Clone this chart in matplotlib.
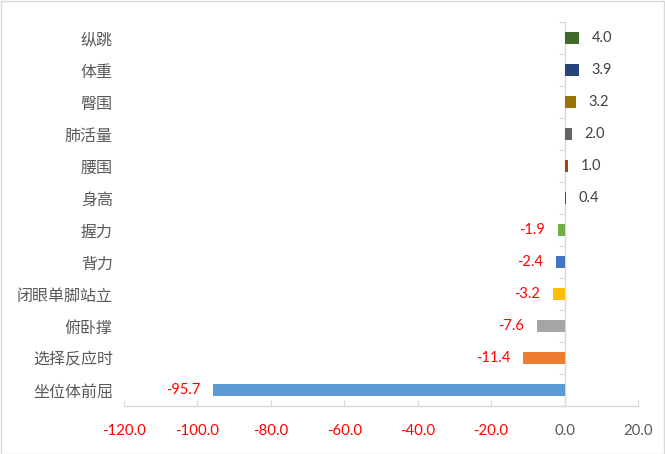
import matplotlib
matplotlib.use("Agg")
import matplotlib.pyplot as plt
from matplotlib.patches import Rectangle

plt.rcParams['font.family'] = ['Noto Sans CJK SC', 'DejaVu Sans']

# Data (top to bottom as displayed)
categories = ['纵跳', '体重', '臀围', '肺活量', '腰围', '身高', '握力', '背力',
              '闭眼单脚站立', '俯卧撑', '选择反应时', '坐位体前屈']
values = [4.0, 3.9, 3.2, 2.0, 1.0, 0.4, -1.9, -2.4, -3.2, -7.6, -11.4, -95.7]
colors = ['#43682B', '#264478', '#997300', '#636363', '#9E480E', '#255E91',
          '#70AD47', '#4472C4', '#FFC000', '#A5A5A5', '#ED7D31', '#5B9BD5']
xticks = [-120, -100, -80, -60, -40, -20, 0, 20]

fig = plt.figure(figsize=(6.65, 4.54), dpi=100)
ax = fig.add_axes([0.1865, 0.1057, 0.7729, 0.8458])

ypos = list(range(len(categories)))
ax.barh(ypos, values, height=0.37, color=colors, zorder=3)

ax.set_xlim(-120, 20)
ax.set_ylim(len(categories) - 0.5, -0.5)

num_font = 'Lato'
for y, v in zip(ypos, values):
    if v >= 0:
        ax.annotate(f'{v:.1f}', (v, y), xytext=(9, 0), textcoords='offset points',
                    ha='left', va='center', color='#404040', fontsize=10.5,
                    family=[num_font, 'DejaVu Sans'])
    else:
        ax.annotate(f'{v:.1f}', (v, y), xytext=(-9, 0), textcoords='offset points',
                    ha='right', va='center', color='#FF0000', fontsize=10.5,
                    family=[num_font, 'DejaVu Sans'])

# category labels (low position)
ax.set_yticks(ypos)
ax.set_yticklabels(categories, fontsize=11.5, color='#595959')
ax.tick_params(axis='y', length=0, pad=8)

# x axis
ax.set_xticks(xticks)
ax.set_xticklabels([f'{t:.1f}' for t in xticks], family=[num_font, 'DejaVu Sans'], fontsize=10.8)
for lbl, t in zip(ax.get_xticklabels(), xticks):
    lbl.set_color('#FF0000' if t < 0 else '#595959')
ax.tick_params(axis='x', direction='in', length=4.5, color='#D9D9D9', pad=13)

for s in ['top', 'right', 'left']:
    ax.spines[s].set_visible(False)
ax.spines['bottom'].set_color('#D9D9D9')
ax.spines['bottom'].set_linewidth(1.0)

# zero axis with category boundary ticks
sec = ax.secondary_yaxis(0, transform=ax.transData)
sec.set_yticks([p - 0.5 for p in ypos] + [len(categories) - 0.5])
sec.set_yticklabels([])
sec.tick_params(axis='y', direction='out', length=4.5, color='#D9D9D9')
sec.spines['left'].set_color('#D9D9D9')
sec.spines['left'].set_linewidth(1.0)

# chart border
fig.patches.append(Rectangle((0.001, 0.001), 0.997, 0.997, transform=fig.transFigure,
                             fill=False, edgecolor='#D9D9D9', linewidth=1.0))

fig.savefig('out.png', dpi=100)
